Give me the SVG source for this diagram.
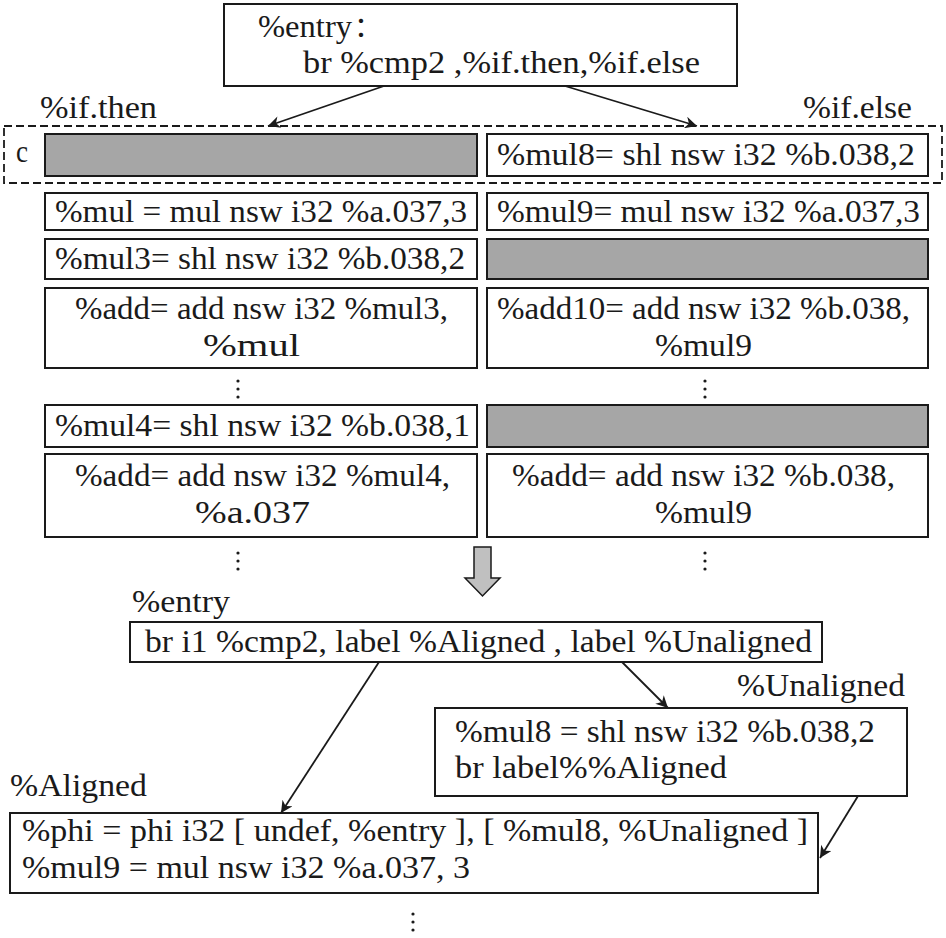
<svg xmlns="http://www.w3.org/2000/svg" width="946" height="938" viewBox="0 0 946 938">
<style>
text{font-family:"Liberation Serif","Times New Roman","Noto Sans CJK SC",serif;font-size:32px;fill:#1a1a1a}
.b{fill:#fff;stroke:#1a1a1a;stroke-width:2}
.g{fill:#a6a6a6;stroke:#1a1a1a;stroke-width:2}
.c{stroke:#1a1a1a;stroke-width:1.8;fill:none}
.d{fill:#1a1a1a}
</style>
<defs>
<marker id="ah" viewBox="0 0 10 10" refX="10" refY="5" markerWidth="22" markerHeight="12" markerUnits="userSpaceOnUse" orient="auto">
<path d="M0,0 L10,5 L0,10 L3,5 z" fill="#1a1a1a"/>
</marker>
</defs>
<g id="entry-top">
<rect class="b" x="224" y="4" width="513" height="82"/>
<text x="258" y="37" textLength="94" lengthAdjust="spacingAndGlyphs">%entry</text>
<text x="354" y="37" style="font-family:'Noto Sans CJK SC','Liberation Serif',sans-serif;font-size:28px">：</text>
<text x="303" y="73" textLength="397" lengthAdjust="spacingAndGlyphs">br %cmp2 ,%if.then,%if.else</text>
</g>
<g id="labels-top">
<text x="40" y="118" textLength="117" lengthAdjust="spacingAndGlyphs">%if.then</text>
<text x="803" y="118" textLength="109" lengthAdjust="spacingAndGlyphs">%if.else</text>
</g>
<g id="dashed-group">
<rect x="4" y="126" width="938" height="57" fill="none" stroke="#1a1a1a" stroke-width="1.8" stroke-dasharray="8,4"/>
<text x="16" y="162" textLength="12" lengthAdjust="spacingAndGlyphs">c</text>
</g>
<g id="row1-left"><rect class="g" x="45" y="134" width="432" height="42"/></g>
<g id="row1-right"><rect class="b" x="487" y="134" width="441" height="42"/>
<text x="497" y="165" textLength="418" lengthAdjust="spacingAndGlyphs">%mul8= shl nsw i32 %b.038,2</text></g>
<g id="row2-left"><rect class="b" x="45" y="193" width="432" height="37"/>
<text x="55" y="222" textLength="412" lengthAdjust="spacingAndGlyphs">%mul = mul nsw i32 %a.037,3</text></g>
<g id="row2-right"><rect class="b" x="487" y="193" width="441" height="37"/>
<text x="497" y="222" textLength="423" lengthAdjust="spacingAndGlyphs">%mul9= mul nsw i32 %a.037,3</text></g>
<g id="row3-left"><rect class="b" x="45" y="239" width="432" height="40"/>
<text x="55" y="269" textLength="410" lengthAdjust="spacingAndGlyphs">%mul3= shl nsw i32 %b.038,2</text></g>
<g id="row3-right"><rect class="g" x="487" y="239" width="441" height="40"/></g>
<g id="row4-left"><rect class="b" x="45" y="288" width="432" height="80"/>
<text x="75" y="319" textLength="373" lengthAdjust="spacingAndGlyphs">%add= add nsw i32 %mul3,</text>
<text x="203" y="356" textLength="97" lengthAdjust="spacingAndGlyphs">%mul</text></g>
<g id="row4-right"><rect class="b" x="487" y="288" width="441" height="80"/>
<text x="497" y="319" textLength="413" lengthAdjust="spacingAndGlyphs">%add10= add nsw i32 %b.038,</text>
<text x="655" y="356" textLength="97" lengthAdjust="spacingAndGlyphs">%mul9</text></g>
<g id="dots1">
<circle class="d" cx="238" cy="381" r="1.6"/><circle class="d" cx="238" cy="389" r="1.6"/><circle class="d" cx="238" cy="397" r="1.6"/>
<circle class="d" cx="705" cy="381" r="1.6"/><circle class="d" cx="705" cy="389" r="1.6"/><circle class="d" cx="705" cy="397" r="1.6"/>
</g>
<g id="row5-left"><rect class="b" x="45" y="405" width="432" height="42"/>
<text x="55" y="436" textLength="415" lengthAdjust="spacingAndGlyphs">%mul4= shl nsw i32 %b.038,1</text></g>
<g id="row5-right"><rect class="g" x="487" y="405" width="441" height="42"/></g>
<g id="row6-left"><rect class="b" x="45" y="454" width="432" height="83"/>
<text x="75" y="486" textLength="375" lengthAdjust="spacingAndGlyphs">%add= add nsw i32 %mul4,</text>
<text x="195" y="523" textLength="115" lengthAdjust="spacingAndGlyphs">%a.037</text></g>
<g id="row6-right"><rect class="b" x="487" y="454" width="441" height="83"/>
<text x="512" y="486" textLength="383" lengthAdjust="spacingAndGlyphs">%add= add nsw i32 %b.038,</text>
<text x="655" y="523" textLength="97" lengthAdjust="spacingAndGlyphs">%mul9</text></g>
<g id="dots2">
<circle class="d" cx="238" cy="553" r="1.6"/><circle class="d" cx="238" cy="561" r="1.6"/><circle class="d" cx="238" cy="569" r="1.6"/>
<circle class="d" cx="705" cy="553" r="1.6"/><circle class="d" cx="705" cy="561" r="1.6"/><circle class="d" cx="705" cy="569" r="1.6"/>
</g>
<g id="transform-arrow">
<path d="M474,547 L491,547 L491,578 L500,578 L482.5,596 L465,578 L474,578 Z" fill="#c0c0c0" stroke="#1a1a1a" stroke-width="1.5"/>
</g>
<g id="entry-bottom">
<text x="132" y="612" textLength="98" lengthAdjust="spacingAndGlyphs">%entry</text>
<rect class="b" x="130" y="622" width="692" height="40"/>
<text x="145" y="652" textLength="667" lengthAdjust="spacingAndGlyphs">br i1 %cmp2, label %Aligned , label %Unaligned</text>
</g>
<g id="unaligned">
<text x="737" y="696" textLength="168" lengthAdjust="spacingAndGlyphs">%Unaligned</text>
<rect class="b" x="435" y="708" width="472" height="88"/>
<text x="455" y="742" textLength="420" lengthAdjust="spacingAndGlyphs">%mul8 = shl nsw i32 %b.038,2</text>
<text x="455" y="778" textLength="272" lengthAdjust="spacingAndGlyphs">br label%%Aligned</text>
</g>
<g id="aligned">
<text x="10" y="796" textLength="137" lengthAdjust="spacingAndGlyphs">%Aligned</text>
<rect class="b" x="10" y="813" width="808" height="80"/>
<text x="22" y="841" textLength="786" lengthAdjust="spacingAndGlyphs">%phi = phi i32 [ undef, %entry ], [ %mul8, %Unaligned  ]</text>
<text x="22" y="878" textLength="448" lengthAdjust="spacingAndGlyphs">%mul9 = mul nsw i32 %a.037, 3</text>
</g>
<g id="dots3">
<circle class="d" cx="413" cy="914" r="1.6"/><circle class="d" cx="413" cy="922" r="1.6"/><circle class="d" cx="413" cy="930" r="1.6"/>
</g>
<g id="connectors">
<line class="c" x1="384" y1="86" x2="268" y2="126" marker-end="url(#ah)"/>
<line class="c" x1="565" y1="86" x2="697" y2="126" marker-end="url(#ah)"/>
<line class="c" x1="379" y1="662" x2="281" y2="813" marker-end="url(#ah)"/>
<line class="c" x1="622" y1="662" x2="668" y2="708" marker-end="url(#ah)"/>
<line class="c" x1="858" y1="796" x2="820" y2="858" marker-end="url(#ah)"/>
</g>
</svg>
